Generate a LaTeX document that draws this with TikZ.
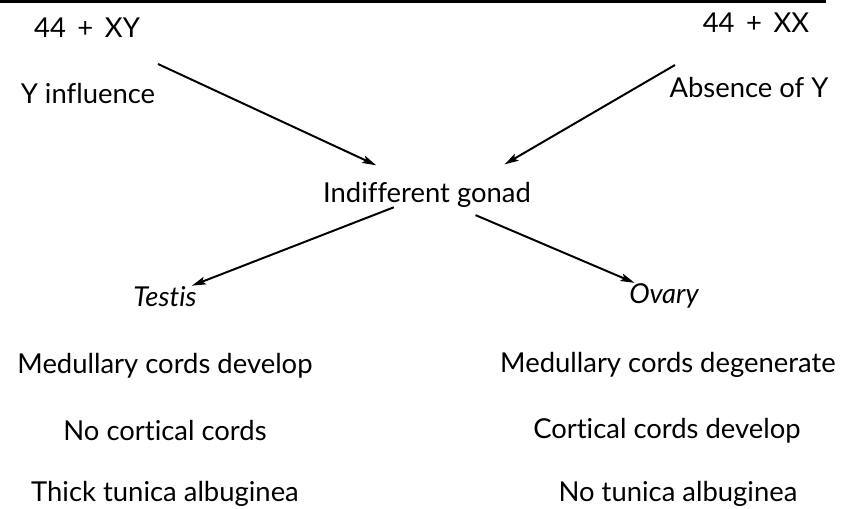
\documentclass[tikz,border=0pt]{standalone}
\usepackage{fontspec}
\setmainfont{Lato}[Ligatures=NoCommon]
\usetikzlibrary{arrows.meta}

\begin{document}
\begin{tikzpicture}[x=0.025cm, y=-0.025cm,
      txt/.style = {font=\fontsize{19.5}{24}\selectfont, inner sep=0pt, anchor=base},
      organ/.style = {txt, font=\fontsize{19.5}{24}\selectfont\itshape},
      arr/.style = {line width=1.4pt, -{Stealth[length=10pt, width=5.5pt, inset=2pt]}}]
    \useasboundingbox (0,0) rectangle (842,508);
    % top rule of the page
    \draw[line width=2.2pt] (0,1.5) -- (826,1.5);

    % karyotypes
    \node[txt] (xy) at (87,37) {44 \,+ \,XY};
    \node[txt] (yinf) at (88,103) {Y influence};
    \node[txt] (xx) at (756,32) {44 \,+ \,XX};
    \node[txt] (absy) at (749,97) {Absence of Y};
    \coordinate (c1) at (158,64);
    \coordinate (c2) at (675,65);

    % gonads
    \node[txt] (gonad) at (427,202) {Indifferent gonad};
    \node[organ] (testis) at (165,306) {Testis};
    \node[organ] (ovary) at (664,303) {Ovary};

    % male features
    \node[txt] (m1) at (165,373) {Medullary cords develop};
    \node[txt] (m2) at (165,440) {No cortical cords};
    \node[txt] (m3) at (165,501) {Thick tunica albuginea};

    % female features
    \node[txt] (f1) at (668,372) {Medullary cords degenerate};
    \node[txt] (f2) at (667,438) {Cortical cords develop};
    \node[txt] (f3) at (678,501) {No tunica albuginea};

    % arrows
    \draw[arr, shorten >=1.73cm] (c1) -- ([xshift=0.3cm]gonad.center);
    \draw[arr, shorten >=1.49cm] (c2) -- ([xshift=0.65cm]gonad.center);
    \draw[arr] (gonad) -- (testis);
    \draw[arr, shorten <=0.5cm] (gonad) -- (ovary);

  \end{tikzpicture}
\end{document}
